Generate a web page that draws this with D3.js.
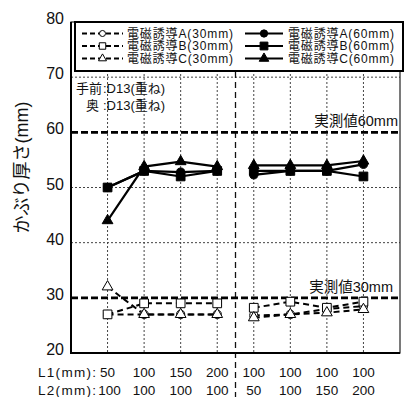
<!DOCTYPE html>
<html>
<head>
<meta charset="utf-8">
<script src="https://cdn.jsdelivr.net/npm/d3@7"></script>
<style>
  body { margin: 0; background: #fff; }
  text { font-family: "Liberation Sans", "Noto Sans CJK JP", sans-serif; fill: #111; }
</style>
</head>
<body>
<div id="chart"></div>
<script>
// categories (two rows of tick labels)
const L1 = [50, 100, 150, 200, 100, 100, 100, 100]
const L2 = [100, 100, 100, 100, 50, 100, 150, 200]
const yTicks = [20, 30, 40, 50, 60, 70, 80]

// 30mm series (hollow markers, dashed)
const A30 = [27, 27, 27, 27, 26.8, 27, 28, 28.5]
const B30 = [27, 29, 29, 29, 28.2, 29.3, 28.2, 29.3]
const C30 = [32, 27, 27, 27, 26.4, 27, 27.3, 27.9]
// 60mm series (filled markers, solid)
const A60 = [50, 53, 52.8, 53, 52.3, 53, 53, 54.2]
const B60 = [50, 53, 52, 53, 53, 53, 53, 52]
const C60 = [44, 53.8, 54.7, 53.8, 54, 54, 54, 54.8]

const refLines = [60, 30]

const series = [
    { name: "電磁誘導A(30mm)", values: A30, sym: d3.symbolCircle, filled: false },
    { name: "電磁誘導B(30mm)", values: B30, sym: d3.symbolSquare, filled: false },
    { name: "電磁誘導C(30mm)", values: C30, sym: d3.symbolTriangle, filled: false },
    { name: "電磁誘導A(60mm)", values: A60, sym: d3.symbolCircle, filled: true },
    { name: "電磁誘導B(60mm)", values: B60, sym: d3.symbolSquare, filled: true },
    { name: "電磁誘導C(60mm)", values: C60, sym: d3.symbolTriangle, filled: true }
]

const width = 411, height = 397
const plot = { left: 71, right: 400, top: 22, bottom: 353 }

const svg = d3.select("#chart").append("svg")
    .attr("width", width)
    .attr("height", height)

const x = d3.scaleLinear().domain([-1, L1.length]).range([plot.left, plot.right])
const y = d3.scaleLinear().domain([20, 80]).range([plot.bottom, plot.top])

function sizeOf(sym) {
    if (sym === d3.symbolCircle) return 52
    if (sym === d3.symbolSquare) return 76
    return 50
}

// grid
const grid = svg.append("g")
grid.selectAll("line.h")
    .data(yTicks.filter(t => t > 20 && t < 80 && refLines.indexOf(t) < 0))
    .join("line")
    .attr("x1", plot.left).attr("x2", plot.right)
    .attr("y1", d => y(d)).attr("y2", d => y(d))
    .attr("stroke", "#444").attr("stroke-width", 1)
    .attr("stroke-dasharray", "2,2")
grid.selectAll("line.v")
    .data(d3.range(L1.length))
    .join("line")
    .attr("x1", d => x(d)).attr("x2", d => x(d))
    .attr("y1", plot.top).attr("y2", plot.bottom)
    .attr("stroke", "#444").attr("stroke-width", 1)
    .attr("stroke-dasharray", "2,2")

// group separator
svg.append("line")
    .attr("x1", x(3.5)).attr("x2", x(3.5))
    .attr("y1", plot.top).attr("y2", height)
    .attr("stroke", "#111").attr("stroke-width", 1.3)
    .attr("stroke-dasharray", "6,4")

// measured value lines
svg.selectAll("line.ref")
    .data(refLines)
    .join("line")
    .attr("x1", plot.left).attr("x2", plot.right)
    .attr("y1", d => y(d)).attr("y2", d => y(d))
    .attr("stroke", "#000").attr("stroke-width", 2.6)
    .attr("stroke-dasharray", "7,3")
svg.append("text").attr("x", 398).attr("y", y(60) - 6)
    .attr("text-anchor", "end").style("font-size", "14.5px").text("実測値60mm")
svg.append("text").attr("x", 393).attr("y", y(30) - 6)
    .attr("text-anchor", "end").style("font-size", "14.5px").text("実測値30mm")

// frame
svg.append("rect")
    .attr("x", plot.left).attr("y", plot.top)
    .attr("width", plot.right - plot.left).attr("height", plot.bottom - plot.top)
    .attr("fill", "none").attr("stroke", "#222").attr("stroke-width", 1.2)
svg.append("path")
    .attr("d", `M${plot.left},${plot.top}V${plot.bottom}H${plot.right}`)
    .attr("fill", "none").attr("stroke", "#000").attr("stroke-width", 2)

// y axis
const yAxis = svg.append("g")
    .attr("transform", `translate(${plot.left},0)`)
    .call(d3.axisLeft(y).tickValues(yTicks).tickSize(0).tickPadding(7))
yAxis.select(".domain").remove()
yAxis.selectAll("text")
    .style("font-size", "16px")
    .style("font-family", "'Liberation Sans', sans-serif")
    .attr("dy", "0.1em")
    .attr("fill", "#111")

svg.append("text")
    .attr("transform", `translate(28,${(plot.top + plot.bottom) / 2 - 20}) rotate(-90)`)
    .attr("text-anchor", "middle")
    .style("font-size", "18px")
    .text("かぶり厚さ(mm)")

// x labels
svg.append("text").attr("x", 38).attr("y", 377)
    .attr("textLength", 58).attr("lengthAdjust", "spacing")
    .style("font-size", "13.5px").text("L1(mm):")
svg.append("text").attr("x", 38).attr("y", 395)
    .attr("textLength", 58).attr("lengthAdjust", "spacing")
    .style("font-size", "13.5px").text("L2(mm):")
svg.selectAll("text.l1")
    .data(L1)
    .join("text")
    .attr("x", (d, i) => x(i)).attr("y", 377)
    .attr("text-anchor", "middle").style("font-size", "13.5px")
    .text(d => d)
svg.selectAll("text.l2")
    .data(L2)
    .join("text")
    .attr("x", (d, i) => x(i) + (i === 0 ? 2 : 0)).attr("y", 395)
    .attr("text-anchor", "middle").style("font-size", "13.5px")
    .text(d => d)

// annotation
const ann = svg.append("g").style("font-size", "13px")
ann.append("text").attr("x", 76).attr("y", 93).text("手前")
ann.append("text").attr("x", 103).attr("y", 93).text(":D13(重ね)")
ann.append("text").attr("x", 86).attr("y", 110).text("奥")
ann.append("text").attr("x", 103).attr("y", 110).text(":D13(重ね)")

// series lines, two separate groups
const groups = [[0, 1, 2, 3], [4, 5, 6, 7]]
const line = d3.line().x(d => x(d.i)).y(d => y(d.v))
series.forEach(s => {
    groups.forEach(g => {
        svg.append("path")
            .datum(g.map(i => ({ i: i, v: s.values[i] })))
            .attr("d", line)
            .attr("fill", "none")
            .attr("stroke", "#000")
            .attr("stroke-width", s.filled ? 2.2 : 2)
            .attr("stroke-dasharray", s.filled ? null : "6,4")
    })
})
series.forEach(s => {
    svg.append("g").selectAll("path")
        .data(s.values)
        .join("path")
        .attr("transform", (d, i) => `translate(${x(i)},${y(d)})`)
        .attr("d", d3.symbol().type(s.sym).size(sizeOf(s.sym)))
        .attr("fill", s.filled ? "#000" : "#fff")
        .attr("stroke", "#000")
        .attr("stroke-width", 1)
})

// legend
const lg = svg.append("g")
lg.append("rect")
    .attr("x", 75).attr("y", 22).attr("width", 328).attr("height", 49)
    .attr("fill", "#fff").attr("stroke", "#000").attr("stroke-width", 2)
series.forEach((s, k) => {
    const col = k < 3 ? 0 : 1
    const row = k % 3
    const ly = 33.5 + row * 12.5
    const x0 = col ? 245 : 82, x1 = col ? 283 : 123
    lg.append("line")
        .attr("x1", x0).attr("x2", x1).attr("y1", ly).attr("y2", ly)
        .attr("stroke", "#000").attr("stroke-width", 2)
        .attr("stroke-dasharray", s.filled ? null : "5,3")
    lg.append("path")
        .attr("transform", `translate(${(x0 + x1) / 2},${ly})`)
        .attr("d", d3.symbol().type(s.sym).size(s.filled ? sizeOf(s.sym) * 0.8 : sizeOf(s.sym) * 0.55))
        .attr("fill", s.filled ? "#000" : "#fff")
        .attr("stroke", "#000").attr("stroke-width", 1)
    lg.append("text")
        .attr("x", col ? 288 : 127).attr("y", ly + 4.2)
        .attr("textLength", 106).attr("lengthAdjust", "spacing")
        .style("font-size", "12px")
        .text(s.name)
})
</script>
</body>
</html>
